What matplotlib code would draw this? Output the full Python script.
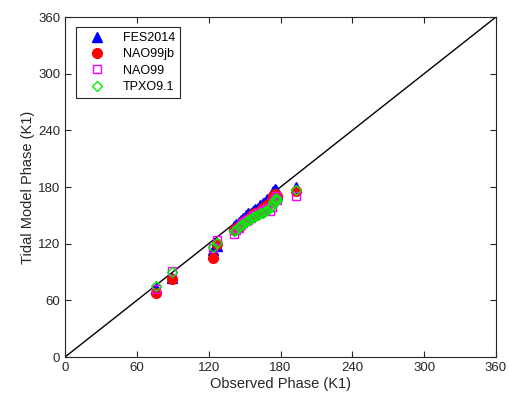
import matplotlib
matplotlib.use("Agg")
import matplotlib.pyplot as plt

obs = [76, 89, 124, 127, 141, 143, 145, 147, 149, 151, 153, 155, 157, 159, 161,
       163, 165, 167, 169, 171, 173, 174, 175, 176, 177, 193]
fes2014 = [73, 84, 113, 118, 139, 141, 143, 145, 147, 150, 152, 153, 155, 157, 158,
           161, 163, 164, 167, 169, 172, 176, 178, 177, 173, 180]
nao99jb = [68, 83, 105, 120, 134, 137, 138, 141, 143, 145, 146, 149, 151, 152, 153,
           155, 158, 159, 161, 163, 166, 170, 173, 172, 170, 176]
nao99 = [72, 91, 115, 124, 130, 134, 137, 140, 142, 144, 145, 147, 149, 150, 152,
         153, 155, 156, 158, 155, 159, 164, 167, 170, 166, 170]
tpxo91 = [75, 90, 117, 121, 133, 135, 138, 140, 141, 143, 145, 146, 148, 149, 150,
          152, 153, 155, 156, 158, 160, 164, 166, 168, 166, 177]
ticks = [0, 60, 120, 180, 240, 300, 360]

plt.rcParams['font.family'] = ['Liberation Sans', 'DejaVu Sans']
fig = plt.figure(figsize=(5.1, 4.03), dpi=100)
ax = fig.add_axes([0.1275, 0.1141, 0.845, 0.8437])

ax.plot([0, 360], [0, 360], color='black', lw=1, zorder=1)
ax.plot(obs, fes2014, '^', color='blue', ms=6.5, ls='none', label='FES2014', zorder=2)
ax.plot(obs, nao99jb, 'o', color='red', ms=7, ls='none', label='NAO99jb', zorder=3)
ax.plot(obs, nao99, 's', mfc='none', mec='magenta', ms=6, mew=1, ls='none', label='NAO99', zorder=4)
ax.plot(obs, tpxo91, 'D', mfc='none', mec='#00ee00', ms=5.5, mew=1, ls='none', label='TPXO9.1', zorder=5)

ax.set_xlim(0, 360)
ax.set_ylim(0, 360)
ax.set_xticks(ticks)
ax.set_yticks(ticks)
ax.tick_params(direction='in', top=True, right=True, labelsize=9.5, length=4, width=0.8, colors='#262626', labelcolor='#262626')
for s in ax.spines.values():
    s.set_color('#262626')
    s.set_linewidth(0.8)
ax.set_xlabel('Observed Phase (K1)', fontsize=10.5, color='#262626', labelpad=2)
ax.set_ylabel('Tidal Model Phase (K1)', fontsize=10.5, color='#262626', labelpad=2)

leg = ax.legend(loc='upper left', bbox_to_anchor=(0.0256, 0.97), borderaxespad=0, fancybox=False,
                edgecolor='#262626', framealpha=1, fontsize=9, handletextpad=0.75, labelspacing=0.34,
                borderpad=0.4, handlelength=2.6)
leg.get_frame().set_linewidth(0.8)

fig.savefig('out.png', dpi=100)
